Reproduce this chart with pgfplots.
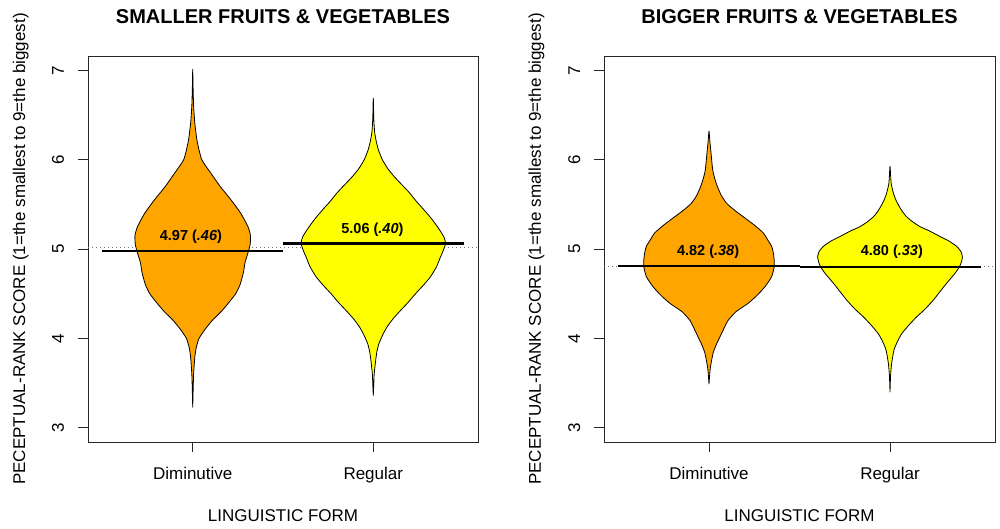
\documentclass[border=0pt]{standalone}
\usepackage{fontspec}
\setmainfont{Liberation Sans}
\usepackage{pgfplots}
\pgfplotsset{compat=1.18}
\definecolor{vorange}{RGB}{255,165,0}
\definecolor{vyellow}{RGB}{255,255,0}
\pgfplotsset{
  beanax/.style={
    scale only axis, width=390pt, height=386pt,
    xmin=0.42, xmax=2.58, ymin=2.84, ymax=7.16,
    axis line style={line width=0.9pt, black!85},
    xtick={1,2}, xticklabels={Diminutive,Regular},
    ytick={3,4,5,6,7}, yticklabels={3,4,5,6,7},
    xtick pos=left, ytick pos=left,
    tick align=outside, major tick length=10pt,
    tick style={line width=0.9pt, black!85},
    tick label style={font=\fontsize{17}{20}\selectfont},
    xticklabel style={anchor=base},
    xticklabel shift=28pt,
    yticklabel style={rotate=90, anchor=base},
    yticklabel shift=14pt,
    label style={font=\fontsize{17}{20}\selectfont},
    xlabel={LINGUISTIC FORM},
    ylabel={PECEPTUAL-RANK SCORE (1=the smallest to 9=the biggest)},
    xlabel style={at={(axis description cs:0.5,-0.2047)}, anchor=base},
    ylabel style={at={(axis description cs:-0.1615,0.5)}, anchor=base},
    title style={font=\bfseries\fontsize{20}{24}\selectfont, at={(axis description cs:0.5,1.069)}, anchor=base},
  },
  bean/.style={draw=black, line width=0.8pt, line join=round, smooth, tension=0.35},
  meanline/.style={black, line width=2.3pt, line cap=butt},
  grandmean/.style={black!55, line width=1pt, dash pattern=on 1.2pt off 2.8pt},
}
\newcommand{\meanlab}[2]{\fontsize{14.5}{17}\selectfont\bfseries #1 (\textit{#2})}
\begin{document}
\begin{tikzpicture}
\path[use as bounding box] (0,0) rectangle (1000pt,529pt);
% ---------------- left panel ----------------
\begin{axis}[beanax, at={(88pt,87pt)}, anchor=south west,
  title={SMALLER FRUITS \& VEGETABLES}]
\addplot[grandmean] coordinates {(0.42,5.015) (2.58,5.015)};
\addplot[bean, fill=vorange] coordinates {
(1.000,3.23) (1.002,3.40) (1.005,3.60) (1.012,3.80) (1.020,3.90) (1.035,4.00)
(1.068,4.10) (1.108,4.20) (1.158,4.30) (1.200,4.40) (1.238,4.50) (1.262,4.60)
(1.280,4.73) (1.290,4.85) (1.305,4.95) (1.318,5.05) (1.320,5.15) (1.306,5.25)
(1.266,5.40) (1.212,5.55) (1.152,5.70) (1.100,5.85) (1.050,6.00) (1.025,6.20)
(1.012,6.40) (1.005,6.60) (1.002,6.80) (1.000,7.01)
(0.998,6.80) (0.995,6.60) (0.988,6.40) (0.975,6.20) (0.950,6.00) (0.900,5.85)
(0.848,5.70) (0.788,5.55) (0.734,5.40) (0.694,5.25) (0.680,5.15) (0.682,5.05)
(0.695,4.95) (0.710,4.85) (0.720,4.73) (0.738,4.60) (0.762,4.50) (0.800,4.40)
(0.842,4.30) (0.892,4.20) (0.932,4.10) (0.965,4.00) (0.980,3.90) (0.988,3.80)
(0.995,3.60) (0.998,3.40)} -- cycle;
\addplot[bean, fill=vyellow] coordinates {
(2.000,3.36) (2.003,3.50) (2.005,3.60) (2.013,3.75) (2.020,3.85) (2.031,3.94)
(2.055,4.05) (2.077,4.13) (2.110,4.22) (2.150,4.31) (2.192,4.40) (2.234,4.50)
(2.280,4.60) (2.317,4.69) (2.350,4.80) (2.370,4.90) (2.385,4.97) (2.400,5.06)
(2.390,5.14) (2.355,5.25) (2.318,5.35) (2.280,5.44) (2.240,5.53) (2.200,5.63)
(2.158,5.72) (2.116,5.81) (2.080,5.90) (2.050,6.00) (2.030,6.10) (2.018,6.19)
(2.008,6.30) (2.003,6.45) (2.000,6.69)
(1.997,6.45) (1.992,6.30) (1.982,6.19) (1.970,6.10) (1.950,6.00) (1.920,5.90)
(1.884,5.81) (1.842,5.72) (1.800,5.63) (1.760,5.53) (1.720,5.44) (1.682,5.35)
(1.645,5.25) (1.610,5.14) (1.600,5.06) (1.615,4.97) (1.630,4.90) (1.650,4.80)
(1.683,4.69) (1.720,4.60) (1.766,4.50) (1.808,4.40) (1.850,4.31) (1.890,4.22)
(1.923,4.13) (1.945,4.05) (1.969,3.94) (1.980,3.85) (1.987,3.75) (1.995,3.60)
(1.997,3.50)} -- cycle;
\addplot[meanline] coordinates {(0.5,4.975) (1.5,4.975)};
\addplot[meanline] coordinates {(1.5,5.06) (2.5,5.06)};
\node at (axis cs:0.99,5.14) {\meanlab{4.97}{.46}};
\node at (axis cs:1.995,5.22) {\meanlab{5.06}{.40}};
\end{axis}
% ---------------- right panel ----------------
\begin{axis}[beanax, at={(604pt,87pt)}, anchor=south west, width=391pt,
  title={BIGGER FRUITS \& VEGETABLES}]
\addplot[grandmean] coordinates {(0.42,4.80) (2.58,4.80)};
\addplot[bean, fill=vorange] coordinates {
(1.000,3.49) (1.004,3.60) (1.008,3.68) (1.022,3.83) (1.038,3.92) (1.059,4.01)
(1.080,4.10) (1.105,4.20) (1.150,4.30) (1.215,4.39) (1.265,4.48) (1.310,4.58)
(1.346,4.69) (1.360,4.80) (1.360,4.88) (1.355,4.96) (1.346,5.03) (1.325,5.10)
(1.300,5.18) (1.255,5.26) (1.210,5.33) (1.150,5.42) (1.098,5.51) (1.068,5.60)
(1.046,5.70) (1.030,5.80) (1.020,5.89) (1.011,6.08) (1.005,6.20) (1.000,6.32)
(0.995,6.20) (0.989,6.08) (0.980,5.89) (0.970,5.80) (0.954,5.70) (0.932,5.60)
(0.902,5.51) (0.850,5.42) (0.790,5.33) (0.745,5.26) (0.700,5.18) (0.675,5.10)
(0.654,5.03) (0.645,4.96) (0.640,4.88) (0.640,4.80) (0.654,4.69) (0.690,4.58)
(0.735,4.48) (0.785,4.39) (0.850,4.30) (0.895,4.20) (0.920,4.10) (0.941,4.01)
(0.962,3.92) (0.978,3.83) (0.992,3.68) (0.996,3.60)} -- cycle;
\addplot[bean, fill=vyellow] coordinates {
(2.000,3.40) (2.003,3.58) (2.009,3.72) (2.022,3.87) (2.040,3.96) (2.064,4.05)
(2.105,4.15) (2.147,4.24) (2.195,4.33) (2.240,4.43) (2.275,4.52) (2.310,4.61)
(2.335,4.67) (2.360,4.73) (2.380,4.79) (2.392,4.84) (2.400,4.91) (2.392,4.97)
(2.368,5.03) (2.325,5.09) (2.276,5.14) (2.220,5.20) (2.166,5.25) (2.128,5.30)
(2.092,5.36) (2.068,5.42) (2.050,5.48) (2.032,5.55) (2.018,5.63) (2.006,5.74)
(2.000,5.925)
(1.994,5.74) (1.982,5.63) (1.968,5.55) (1.950,5.48) (1.932,5.42) (1.908,5.36)
(1.872,5.30) (1.834,5.25) (1.780,5.20) (1.724,5.14) (1.675,5.09) (1.632,5.03)
(1.608,4.97) (1.600,4.91) (1.608,4.84) (1.620,4.79) (1.640,4.73) (1.665,4.67)
(1.690,4.61) (1.725,4.52) (1.760,4.43) (1.805,4.33) (1.853,4.24) (1.895,4.15)
(1.936,4.05) (1.960,3.96) (1.978,3.87) (1.991,3.72) (1.997,3.58)} -- cycle;
\addplot[meanline] coordinates {(0.5,4.81) (1.5,4.81)};
\addplot[meanline] coordinates {(1.5,4.795) (2.5,4.795)};
\node at (axis cs:0.995,4.97) {\meanlab{4.82}{.38}};
\node at (axis cs:2.01,4.97) {\meanlab{4.80}{.33}};
\end{axis}
\end{tikzpicture}
\end{document}
